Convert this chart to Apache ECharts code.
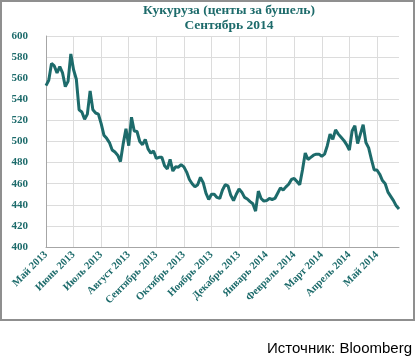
<!DOCTYPE html>
<html>
<head>
<meta charset="utf-8">
<script src="https://cdn.jsdelivr.net/npm/echarts@6/dist/echarts.min.js"></script>
<style>
html,body{margin:0;padding:0;background:#fff;}
#wrap{position:relative;width:417px;height:359px;overflow:hidden;}
#frame{position:absolute;left:0;top:0;width:411px;height:317px;border:2px solid #8f8f8f;}
#chart{position:absolute;left:0;top:0;width:417px;height:359px;}
#src{position:absolute;right:5px;top:339px;font-family:"Liberation Sans",Arial,sans-serif;font-size:15px;color:#000;}
</style>
</head>
<body>
<div id="wrap">
<div id="frame"></div>
<div id="chart"></div>
<div id="src">Источник: Bloomberg</div>
</div>
<script>
const titleLines = ['Кукуруза (центы за бушель)', 'Сентябрь 2014'];
const monthLabels = ['Май 2013','Июнь 2013','Июль 2013','Август 2013','Сентябрь 2013','Октябрь 2013','Ноябрь 2013','Декабрь 2013','Январь 2014','Февраль 2014','Март 2014','Апрель 2014','Май 2014'];
const pointsPerMonth = 10;
const prices = [
553,558,574,571.6,565,571,565,552,557,583,
568,559,530,528,521,526,548,530,527,526,
517,506,503,499,492,490,487,481,498,512,
496,523,510,509.5,500,497,502,493,489,491,
484,485,485,477,474,483,472,476,475.7,478,
476,471,464,460,457,459,466,461,451,445,
450,450,447,446,454,459,458,449,444,450,
455,452,447,445.5,443,441,434,453,446,443.5,
444,446,445,446,451,456,454,457,459.5,464,
465,462,459,473,489,483,485,487,488,488,
486,488,496,507,502,511,507,504,501,497,
492,510,515,498,507,516,499,494,483,473,
473,469,463,460,452,448,444,439,436
];
const yTicks = {min:400, max:600, step:20};

const categories = prices.map((v,i) => (i % pointsPerMonth === 0 && monthLabels[i/pointsPerMonth]) ? monthLabels[i/pointsPerMonth] : String(i));

const teal = '#1d6b6b';
const chart = echarts.init(document.getElementById('chart'));
chart.setOption({
  animation:false,
  title:{
    text: titleLines.join('\n'),
    left: 229, top: 3, textAlign:'center', padding:0,
    textStyle:{fontFamily:'"Liberation Serif", serif', fontWeight:'bold', fontSize:13.5, color:teal, lineHeight:15}
  },
  grid:{left:46, top:36, right:18, bottom:112, containLabel:false},
  xAxis:{
    type:'category', data:categories, boundaryGap:false,
    axisLine:{lineStyle:{color:'#a6a6a6', width:1}},
    axisTick:{show:false},
    splitLine:{show:true, interval:pointsPerMonth-1, lineStyle:{color:'#dcdcdc', width:1}},
    axisLabel:{interval:pointsPerMonth-1, rotate:45, margin:6, color:teal, fontFamily:'"Liberation Serif", serif', fontWeight:'bold', fontSize:10.5,
      formatter:(v)=> /^\d+$/.test(v) ? '' : v}
  },
  yAxis:{
    type:'value', min:yTicks.min, max:yTicks.max, interval:yTicks.step,
    axisLine:{show:true, lineStyle:{color:'#a6a6a6', width:1}},
    axisTick:{show:false},
    splitLine:{lineStyle:{color:'#dcdcdc', width:1}},
    axisLabel:{margin:18, color:teal, fontFamily:'"Liberation Serif", serif', fontWeight:'bold', fontSize:11}
  },
  series:[{
    type:'line', data:prices, showSymbol:false, symbol:'none',
    lineStyle:{color:teal, width:3}, smooth:false
  }]
});
</script>
</body>
</html>
